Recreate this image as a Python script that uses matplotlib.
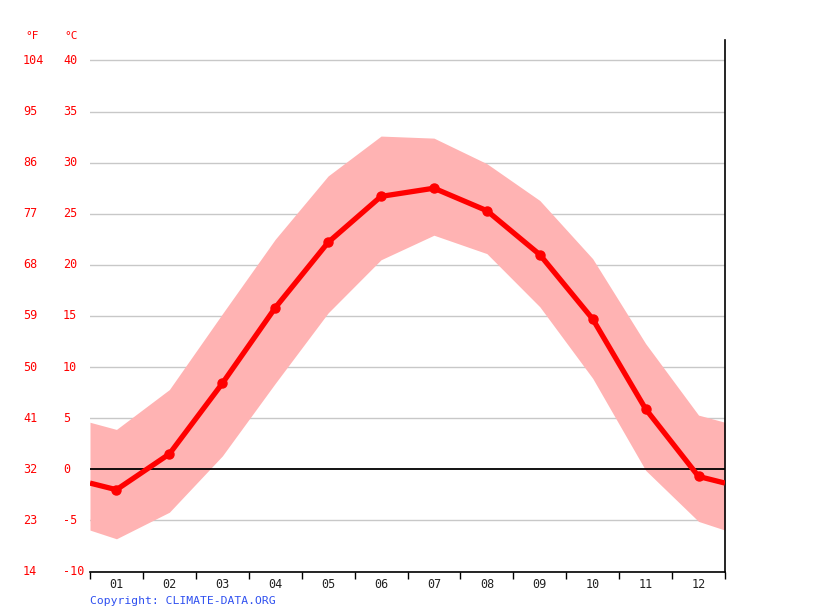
import numpy as np
import matplotlib
matplotlib.use("Agg")
import matplotlib.pyplot as plt

# === DATA ===
months = ["01", "02", "03", "04", "05", "06", "07", "08", "09", "10", "11", "12"]
t_mean = [-2.0, 1.5, 8.4, 15.8, 22.2, 26.7, 27.5, 25.3, 21.0, 14.7, 5.9, -0.7]
t_max = [3.9, 7.8, 15.2, 22.5, 28.7, 32.6, 32.4, 29.9, 26.3, 20.6, 12.3, 5.3]
t_min = [-6.8, -4.2, 1.3, 8.4, 15.3, 20.5, 22.9, 21.1, 15.9, 8.9, -0.1, -5.1]
c_ticks = [40, 35, 30, 25, 20, 15, 10, 5, 0, -5, -10]
f_ticks = [104, 95, 86, 77, 68, 59, 50, 41, 32, 23, 14]

RED = "#ff0000"
BAND = "#ffb3b3"
MONO = "DejaVu Sans Mono"

# === wrap Dec/Jan so the curve runs to both edges ===
def wrapped(vals):
    edge = (vals[0] + vals[-1]) / 2
    return [edge] + list(vals) + [edge]

x = np.arange(1, 13)
xw = np.concatenate([[0.5], x, [12.5]])

fig = plt.figure(figsize=(8.15, 6.11), dpi=100)
ax = fig.add_axes([90 / 815, (611 - 571.5) / 611, 635 / 815, 531.5 / 611])

ax.fill_between(xw, wrapped(t_min), wrapped(t_max), color=BAND, lw=0, zorder=1)
for c in c_ticks:
    if c != 0:
        ax.axhline(c, color="#c8c8c8", lw=1, zorder=0.5)
ax.axhline(0, color="black", lw=1.3, zorder=2)
ax.plot(xw, wrapped(t_mean), color=RED, lw=3.8, solid_capstyle="butt", zorder=3)
ax.plot(x, t_mean, "o", color=RED, ms=6.5, zorder=4)

ax.set_xlim(0.5, 12.5)
ax.set_ylim(-10, 42)

for s in ["left", "top"]:
    ax.spines[s].set_visible(False)
for s in ["right", "bottom"]:
    ax.spines[s].set_color("black")
    ax.spines[s].set_linewidth(1.2)

ax.set_xticks(x)
ax.set_xticklabels(months, fontsize=8.5, family=MONO, color="#222222")
ax.set_xticks(np.arange(0.5, 13, 1), minor=True)
ax.tick_params(axis="x", which="major", length=0, pad=5)
ax.tick_params(axis="x", which="minor", length=5, width=1, color="black")
ax.set_yticks([])

# y labels in two columns (°F and °C), left aligned like the reference
for c, f in zip(c_ticks, f_ticks):
    ax.annotate(str(f), xy=(0, c), xycoords=("figure pixels", "data"),
                xytext=(23, 0), textcoords="offset pixels", ha="left", va="center",
                fontsize=8.5, family=MONO, color=RED)
    ax.annotate(str(c), xy=(0, c), xycoords=("figure pixels", "data"),
                xytext=(63, 0), textcoords="offset pixels", ha="left", va="center",
                fontsize=8.5, family=MONO, color=RED)
fig.text(25 / 815, 1 - 36 / 611, "°F", fontsize=8, family=MONO, color=RED, va="center")
fig.text(64 / 815, 1 - 36 / 611, "°C", fontsize=8, family=MONO, color=RED, va="center")

fig.text(90 / 815, 1 - 601 / 611, "Copyright: CLIMATE-DATA.ORG", fontsize=8.2,
         family=MONO, color="#2f50f0", va="center")

fig.savefig("out.png", dpi=100)
